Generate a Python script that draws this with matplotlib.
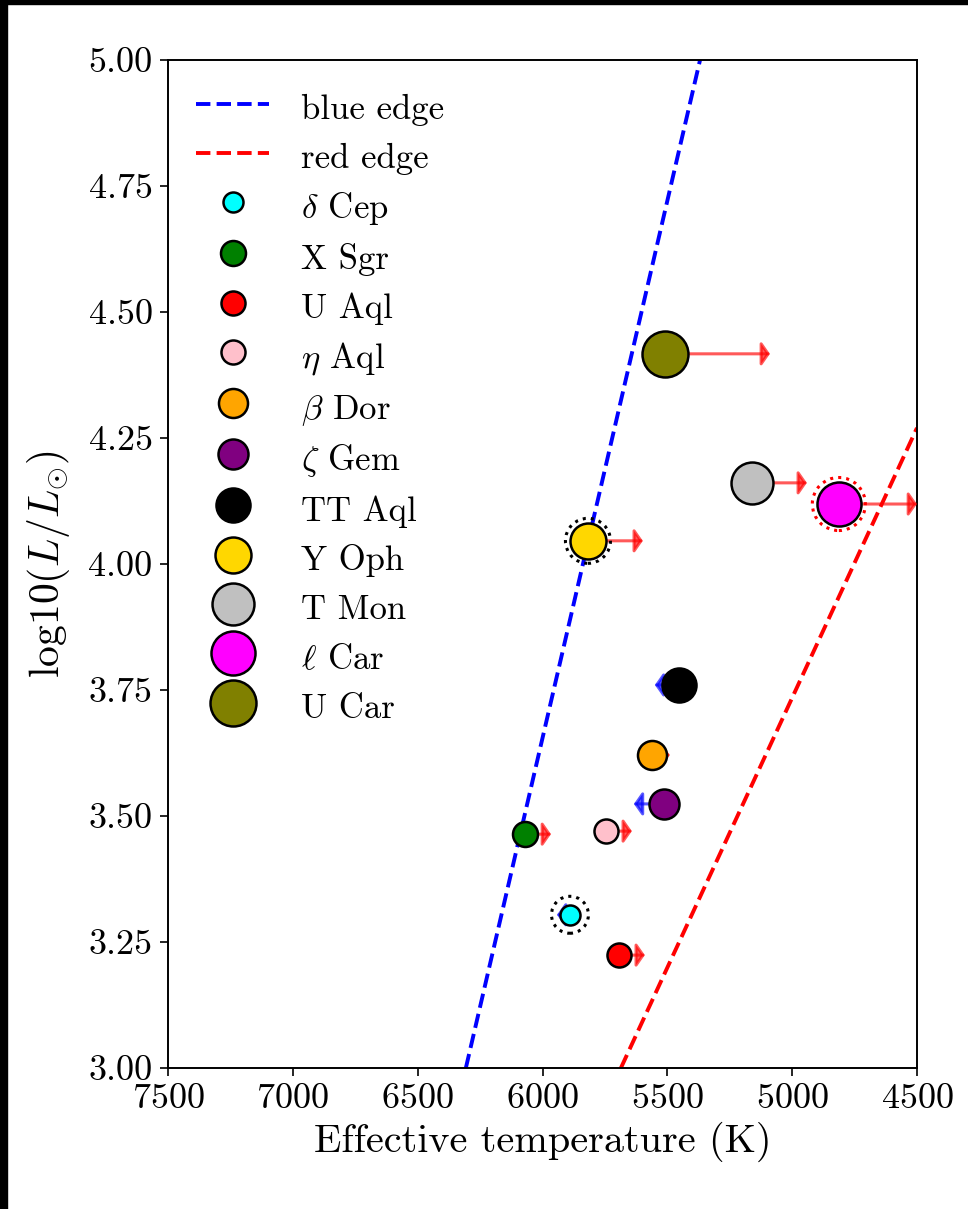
import matplotlib
matplotlib.use("Agg")
import matplotlib.pyplot as plt
from matplotlib.patches import Rectangle
from matplotlib.ticker import FormatStrFormatter

plt.rcParams['font.family'] = 'serif'
plt.rcParams['font.serif'] = ['cmr10']
plt.rcParams['mathtext.fontset'] = 'cm'
plt.rcParams['axes.formatter.use_mathtext'] = True

# instability strip edges (Teff, log L)
blue_edge_T = [6307, 5369]
blue_edge_L = [3.0, 5.0]
red_edge_T = [5686, 4500]
red_edge_L = [3.0, 4.27]

# stars
names = [r'$\delta$ Cep', 'X Sgr', 'U Aql', r'$\eta$ Aql', r'$\beta$ Dor',
         r'$\zeta$ Gem', 'TT Aql', 'Y Oph', 'T Mon', r'$\ell$ Car', 'U Car']
teff = [5890, 6070, 5694, 5746, 5562, 5514, 5454, 5818, 5161, 4813, 5510]
logL = [3.304, 3.464, 3.224, 3.470, 3.621, 3.524, 3.760, 4.046, 4.161, 4.119, 4.417]
colors = ['cyan', 'green', 'red', 'pink', 'orange', 'purple', 'black',
          'gold', 'silver', 'magenta', 'olive']
sizes = [14.4, 18.0, 17.3, 17.3, 20.9, 21.6, 24.5, 25.9, 30.2, 31.7, 33.1]

# temperature shift (arrow end points)
teff_end = [5942, 5966, 5590, 5642, 5490, 5634, 5550, 5598, 4941, 4500, 5089]

# stars with companion rings
ring_star = ['Y Oph', r'$\delta$ Cep', r'$\ell$ Car']
ring_color = ['black', 'black', 'red']
ring_size = [32.4, 26.6, 38.2]

fig = plt.figure(figsize=(9.68, 12.09), dpi=100)
fig.patches.append(Rectangle((0, 0), 7 / 968, 1, transform=fig.transFigure,
                             color='black', zorder=-10))
fig.patches.append(Rectangle((0, 1 - 4 / 1209), 1, 4 / 1209, transform=fig.transFigure,
                             color='black', zorder=-10))
ax = fig.add_axes([168 / 968, 1 - 1068 / 1209, (917 - 168) / 968, (1068 - 60) / 1209])

ax.plot(blue_edge_T, blue_edge_L, '--', color='blue', lw=2.8, label='blue edge')
ax.plot(red_edge_T, red_edge_L, '--', color='red', lw=2.8, label='red edge')

for t, te, l in zip(teff, teff_end, logL):
    c = 'red' if te < t else 'blue'
    ax.annotate('', xy=(te, l), xytext=(t, l), zorder=3,
                arrowprops=dict(arrowstyle='-|>,head_length=0.25,head_width=0.36',
                                color=c, alpha=0.65, lw=2.2, shrinkA=0, shrinkB=0,
                                mutation_scale=20))

for n, t, l, c, s in zip(names, teff, logL, colors, sizes):
    ax.plot(t, l, 'o', ms=s, mfc=c, mec='black', mew=1.8, label=n, zorder=4)

# dotted companion rings
for n, rc, rs in zip(ring_star, ring_color, ring_size):
    i = names.index(n)
    ax.scatter([teff[i]], [logL[i]], s=rs ** 2, facecolors='none', edgecolors=rc,
               linewidths=2.2, linestyles=':', zorder=3.5, label='_nolegend_')

ax.set_xlim(7500, 4500)
ax.set_ylim(3.0, 5.0)
ax.set_xticks([7500, 7000, 6500, 6000, 5500, 5000, 4500])
ax.set_yticks([3.0, 3.25, 3.5, 3.75, 4.0, 4.25, 4.5, 4.75, 5.0])
ax.yaxis.set_major_formatter(FormatStrFormatter('%.2f'))
ax.tick_params(labelsize=26, length=6, width=1.2, pad=5)
for sp in ax.spines.values():
    sp.set_linewidth(1.4)

ax.set_xlabel('Effective temperature (K)', fontsize=29, labelpad=5)
ax.set_ylabel(r'log10$(L/L_{\odot})$', fontsize=30, labelpad=12)

ax.legend(loc='upper left', frameon=False, fontsize=25, numpoints=1,
          handlelength=2.1, handletextpad=0.9, handleheight=1.3,
          labelspacing=0.33, borderaxespad=0.42)

fig.savefig('out.png', dpi=100, facecolor='white')
